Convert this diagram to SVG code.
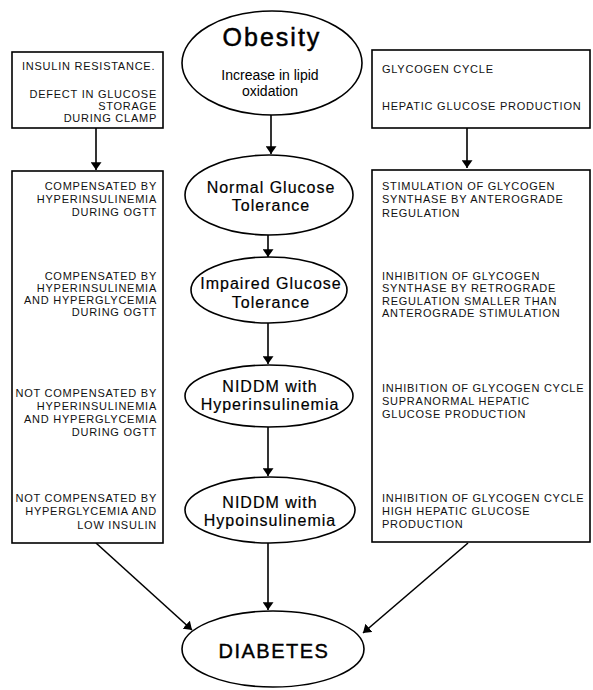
<svg xmlns="http://www.w3.org/2000/svg" width="593" height="690" viewBox="0 0 593 690">
  <defs>
    <marker id="ah" viewBox="0 0 10 14" refX="10" refY="7" markerWidth="8" markerHeight="11" markerUnits="userSpaceOnUse" orient="auto">
      <path d="M0,0 L10,7 L0,14 Z" fill="#000"/>
    </marker>
    <style>
      .shape { fill: #fff; stroke: #000; stroke-width: 1.6; }
      .link { fill: none; stroke: #000; stroke-width: 1.6; marker-end: url(#ah); }
      .box { font-family: "Liberation Sans", Arial, sans-serif; font-size: 11px; letter-spacing: 0.75px; fill: #111; }
      .right { text-anchor: end; }
      .ell { font-family: "Liberation Sans", Arial, sans-serif; font-size: 16px; letter-spacing: 1px; text-anchor: middle; fill: #000; stroke: #000; stroke-width: 0.2; }
      .sub { font-family: "Liberation Sans", Arial, sans-serif; font-size: 14px; text-anchor: middle; fill: #000; }
    </style>
  </defs>
  <rect width="593" height="690" fill="#fff"/>

  <!-- connectors -->
  <g id="connectors">
    <line class="link" x1="271" y1="115" x2="271" y2="154"/>
    <line class="link" x1="268" y1="235" x2="268" y2="257"/>
    <line class="link" x1="268" y1="322" x2="268" y2="364"/>
    <line class="link" x1="268" y1="427" x2="268" y2="476"/>
    <line class="link" x1="268" y1="543" x2="268" y2="610"/>
    <line class="link" x1="96" y1="128" x2="96" y2="170"/>
    <line class="link" x1="94" y1="222" x2="94" y2="262"/>
    <line class="link" x1="95" y1="333" x2="95" y2="376"/>
    <line class="link" x1="95" y1="447" x2="95" y2="490"/>
    <line class="link" x1="96" y1="543" x2="192" y2="630"/>
    <line class="link" x1="467" y1="128" x2="467" y2="168"/>
    <line class="link" x1="467" y1="218" x2="467" y2="268"/>
    <line class="link" x1="468" y1="323" x2="468" y2="376"/>
    <line class="link" x1="468" y1="428" x2="468" y2="488"/>
    <line class="link" x1="468" y1="543" x2="363" y2="633"/>
  </g>

  <!-- central column -->
  <g id="obesity">
    <ellipse class="shape" cx="272" cy="63" rx="90" ry="52"/>
    <text x="272" y="46" font-family="Liberation Sans, Arial, sans-serif" font-size="25" letter-spacing="2" text-anchor="middle" stroke="#000" stroke-width="0.5">Obesity</text>
    <text class="sub" x="270" y="80">Increase in lipid</text>
    <text class="sub" x="270" y="96">oxidation</text>
  </g>
  <g id="normal-glucose-tolerance">
    <ellipse class="shape" cx="269" cy="195" rx="84" ry="40"/>
    <text class="ell" x="271" y="193">Normal Glucose</text>
    <text class="ell" x="271" y="211">Tolerance</text>
  </g>
  <g id="impaired-glucose-tolerance">
    <ellipse class="shape" cx="269" cy="290" rx="78" ry="33"/>
    <text class="ell" x="271" y="289">Impaired Glucose</text>
    <text class="ell" x="271" y="308">Tolerance</text>
  </g>
  <g id="niddm-hyperinsulinemia">
    <ellipse class="shape" cx="269" cy="396" rx="84" ry="31"/>
    <text class="ell" x="270" y="392">NIDDM with</text>
    <text class="ell" x="270" y="410">Hyperinsulinemia</text>
  </g>
  <g id="niddm-hypoinsulinemia">
    <ellipse class="shape" cx="270" cy="510" rx="85" ry="33"/>
    <text class="ell" x="270" y="508">NIDDM with</text>
    <text class="ell" x="270" y="526">Hypoinsulinemia</text>
  </g>
  <g id="diabetes">
    <ellipse class="shape" cx="273" cy="649" rx="91" ry="38"/>
    <text x="274" y="658" font-family="Liberation Sans, Arial, sans-serif" font-size="20" letter-spacing="1.5" text-anchor="middle" stroke="#000" stroke-width="0.4">DIABETES</text>
  </g>

  <!-- left column -->
  <g id="insulin-resistance">
    <rect class="shape" x="12" y="52" width="151" height="76"/>
    <text class="box" x="22" y="70">INSULIN RESISTANCE.</text>
    <text class="box right" x="157" y="98">DEFECT IN GLUCOSE</text>
    <text class="box right" x="157" y="110">STORAGE</text>
    <text class="box right" x="157" y="122">DURING CLAMP</text>
  </g>
  <g id="compensation-stages">
    <rect class="shape" x="12" y="171" width="151" height="372"/>
    <text class="box right" x="157" y="190">COMPENSATED BY</text>
    <text class="box right" x="157" y="203">HYPERINSULINEMIA</text>
    <text class="box right" x="157" y="216">DURING OGTT</text>
    <text class="box right" x="157" y="280">COMPENSATED BY</text>
    <text class="box right" x="157" y="292">HYPERINSULINEMIA</text>
    <text class="box right" x="157" y="304">AND HYPERGLYCEMIA</text>
    <text class="box right" x="157" y="316">DURING OGTT</text>
    <text class="box right" x="157" y="397">NOT COMPENSATED BY</text>
    <text class="box right" x="157" y="410">HYPERINSULINEMIA</text>
    <text class="box right" x="157" y="423">AND HYPERGLYCEMIA</text>
    <text class="box right" x="157" y="436">DURING OGTT</text>
    <text class="box right" x="157" y="502">NOT COMPENSATED BY</text>
    <text class="box right" x="157" y="515">HYPERGLYCEMIA AND</text>
    <text class="box right" x="157" y="529">LOW INSULIN</text>
  </g>

  <!-- right column -->
  <g id="glycogen-cycle">
    <rect class="shape" x="372" y="50" width="218" height="78"/>
    <text class="box" x="382" y="73">GLYCOGEN CYCLE</text>
    <text class="box" x="382" y="110">HEPATIC GLUCOSE PRODUCTION</text>
  </g>
  <g id="glycogen-stages">
    <rect class="shape" x="372" y="170" width="218" height="372"/>
    <text class="box" x="382" y="190">STIMULATION OF GLYCOGEN</text>
    <text class="box" x="382" y="203">SYNTHASE BY ANTEROGRADE</text>
    <text class="box" x="382" y="217">REGULATION</text>
    <text class="box" x="382" y="280">INHIBITION OF GLYCOGEN</text>
    <text class="box" x="382" y="292">SYNTHASE BY RETROGRADE</text>
    <text class="box" x="382" y="305">REGULATION SMALLER THAN</text>
    <text class="box" x="382" y="317">ANTEROGRADE STIMULATION</text>
    <text class="box" x="382" y="392">INHIBITION OF GLYCOGEN CYCLE</text>
    <text class="box" x="382" y="405">SUPRANORMAL HEPATIC</text>
    <text class="box" x="382" y="418">GLUCOSE PRODUCTION</text>
    <text class="box" x="382" y="502">INHIBITION OF GLYCOGEN CYCLE</text>
    <text class="box" x="382" y="515">HIGH HEPATIC GLUCOSE</text>
    <text class="box" x="382" y="528">PRODUCTION</text>
  </g>
</svg>
